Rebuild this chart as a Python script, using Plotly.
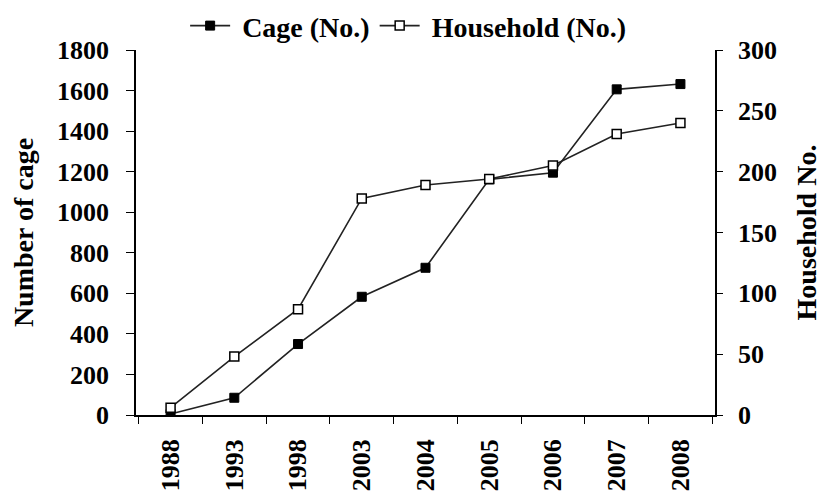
import plotly.graph_objects as go

years = ["1988", "1993", "1998", "2003", "2004", "2005", "2006", "2007", "2008"]
cage = [5, 85, 350, 583, 726, 1162, 1195, 1606, 1632]
household = [6, 48, 87, 178, 189, 194, 205, 231, 240]
left_ticks = [0, 200, 400, 600, 800, 1000, 1200, 1400, 1600, 1800]
right_ticks = [0, 50, 100, 150, 200, 250, 300]

FONT = "Liberation Serif"

fig = go.Figure()
fig.add_trace(go.Scatter(
    x=years, y=cage, name="\u00a0Cage (No.)", mode="lines+markers",
    line=dict(color="#222222", width=1.6),
    marker=dict(symbol="square", size=9, color="black", line=dict(color="black", width=1)),
))
fig.add_trace(go.Scatter(
    x=years, y=household, name="\u00a0Household (No.)", mode="lines+markers", yaxis="y2",
    line=dict(color="#222222", width=1.6),
    marker=dict(symbol="square", size=9, color="white", line=dict(color="black", width=1.5)),
))

axis_font = dict(family=FONT, size=26, color="black", weight="bold")
title_font = dict(family=FONT, size=28, color="black", weight="bold")
fig.update_layout(
    width=829, height=498,
    margin=dict(l=128, r=122, t=42, b=91, autoexpand=False),
    paper_bgcolor="white", plot_bgcolor="white",
    font=dict(family=FONT, color="black"),
    showlegend=True,
    legend=dict(orientation="h", x=0.47, xanchor="center", y=1.066, yanchor="middle",
                font=dict(family=FONT, size=28, color="black", weight="bold"), itemwidth=40,
                bgcolor="rgba(0,0,0,0)"),
    xaxis=dict(type="category", showline=True, linecolor="black", linewidth=1.5,
               ticks="outside", tickson="boundaries", ticklen=7, tickcolor="black",
               tickangle=-90, tickfont=axis_font, showgrid=False, zeroline=False,
               automargin=False, ticklabelstandoff=12),
    yaxis=dict(range=[0, 1800], tickvals=left_ticks, showline=True, linecolor="black",
               linewidth=1.5, ticks="outside", ticklen=8, tickcolor="black",
               tickfont=axis_font, showgrid=False, zeroline=False, automargin=False,
               ticklabelstandoff=12,
               title=dict(text="Number of cage", font=title_font, standoff=31)),
    yaxis2=dict(range=[0, 300], tickvals=right_ticks, overlaying="y", side="right",
                showline=True, linecolor="black", linewidth=1.5, ticks="outside",
                ticklen=6, tickcolor="black", tickfont=axis_font, showgrid=False, zeroline=False,
                automargin=False, ticklabelstandoff=10,
                title=dict(text="Household No.", font=title_font, standoff=20)),
)

fig.write_html("out.html")
